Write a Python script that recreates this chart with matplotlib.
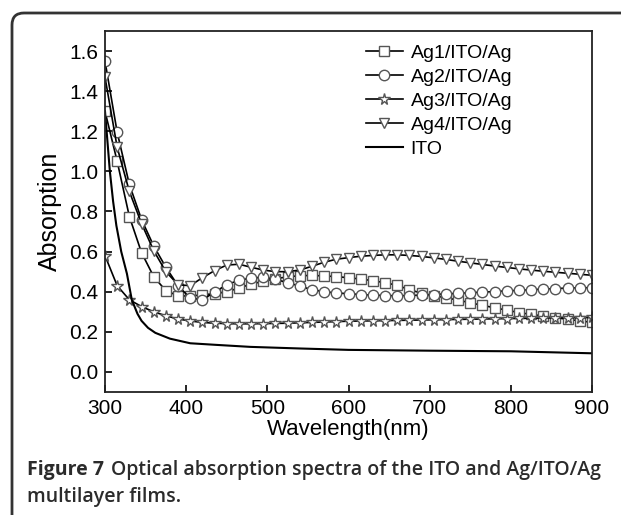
import numpy as np
import matplotlib.pyplot as plt
from matplotlib.patches import FancyBboxPatch

plt.rcParams['font.family'] = ['Liberation Sans', 'DejaVu Sans']

# wavelength grid of the marked curves (nm)
wl = np.arange(300, 901, 15)

ag1 = [1.30, 1.05, 0.775, 0.595, 0.475, 0.405, 0.38, 0.378, 0.385, 0.39, 0.40,
       0.418, 0.438, 0.452, 0.465, 0.474, 0.48, 0.481, 0.479, 0.475, 0.47,
       0.463, 0.455, 0.445, 0.432, 0.41, 0.393, 0.38, 0.37, 0.358, 0.345,
       0.332, 0.32, 0.308, 0.296, 0.287, 0.279, 0.271, 0.262, 0.255, 0.247]
ag2 = [1.55, 1.195, 0.935, 0.76, 0.628, 0.522, 0.43, 0.368, 0.36, 0.398, 0.435,
       0.457, 0.468, 0.472, 0.462, 0.445, 0.428, 0.41, 0.40, 0.394, 0.39,
       0.386, 0.383, 0.381, 0.38, 0.381, 0.383, 0.386, 0.389, 0.392, 0.395,
       0.398, 0.401, 0.404, 0.407, 0.41, 0.413, 0.416, 0.418, 0.42, 0.42]
ag3 = [0.58, 0.43, 0.36, 0.326, 0.30, 0.28, 0.264, 0.254, 0.247, 0.243, 0.241,
       0.24, 0.24, 0.241, 0.242, 0.243, 0.245, 0.247, 0.249, 0.251, 0.253,
       0.254, 0.255, 0.256, 0.257, 0.258, 0.259, 0.26, 0.261, 0.262, 0.263,
       0.264, 0.265, 0.266, 0.267, 0.268, 0.269, 0.27, 0.27, 0.271, 0.272]
ag4 = [1.47, 1.12, 0.90, 0.74, 0.605, 0.50, 0.435, 0.43, 0.47, 0.505, 0.533,
       0.537, 0.522, 0.508, 0.50, 0.50, 0.508, 0.527, 0.547, 0.562, 0.57,
       0.577, 0.581, 0.584, 0.584, 0.581, 0.576, 0.569, 0.561, 0.552, 0.544,
       0.536, 0.528, 0.521, 0.514, 0.508, 0.502, 0.497, 0.492, 0.487, 0.482]

# bare ITO, solid line
ito_wl = [300, 303, 306, 310, 314, 320, 327, 333, 340, 345, 353, 362, 380,
          405, 437, 479, 540, 600, 700, 800, 900]
ito = [1.30, 1.15, 1.00, 0.85, 0.73, 0.60, 0.49, 0.36, 0.29, 0.255, 0.22,
       0.195, 0.166, 0.143, 0.135, 0.125, 0.117, 0.110, 0.106, 0.103, 0.093]

fig = plt.figure(figsize=(6.21, 5.15), dpi=100)
ax = fig.add_axes([105 / 621, 1 - 392 / 515, 487 / 621, 361 / 515])

mk = dict(color='black', lw=1.2, markersize=7.5, markerfacecolor='white',
          markeredgecolor='#555555', markeredgewidth=1.0)
ax.plot(wl, ag1, marker='s', label='Ag1/ITO/Ag', **mk)
ax.plot(wl, ag2, marker='o', label='Ag2/ITO/Ag', **mk)
ax.plot(wl, ag3, marker='*', label='Ag3/ITO/Ag', **dict(mk, markersize=8.5))
ax.plot(wl, ag4, marker='v', label='Ag4/ITO/Ag', **mk)
ax.plot(ito_wl, ito, color='black', lw=1.5, label='ITO')

ax.set_xlim(300, 900)
ax.set_ylim(-0.1, 1.7)
ax.set_xticks(np.arange(300, 901, 100))
ax.set_yticks(np.arange(0, 1.61, 0.2))
ax.yaxis.set_major_formatter(plt.FormatStrFormatter('%.1f'))
ax.tick_params(direction='in', labelsize=15, length=5, width=1.2, pad=5)
for s in ax.spines.values():
    s.set_linewidth(1.3)
    s.set_color('#222222')
ax.set_xlabel('Wavelength(nm)', fontsize=16, labelpad=1)
ax.set_ylabel('Absorption', fontsize=18, labelpad=5)

ax.legend(loc='upper left', bbox_to_anchor=(0.52, 0.985), frameon=False,
          fontsize=14, handlelength=1.9, handletextpad=0.4, labelspacing=0.33,
          borderaxespad=0)

# caption: bold figure number followed by the semibold title
cap_y = 1 - 470 / 515
t1 = fig.text(27 / 621, cap_y, 'Figure 7 ', fontsize=14, fontweight='bold',
              family='Open Sans', va='center', color='#2b2b2b')
fig.canvas.draw()
x_end = fig.transFigure.inverted().transform(
    t1.get_window_extent().get_points())[1, 0]
fig.text(x_end + 2 / 621, cap_y,
         'Optical absorption spectra of the ITO and Ag/ITO/Ag', fontsize=14,
         fontweight='semibold', family='Open Sans', va='center', color='#2b2b2b')
fig.text(27 / 621, 1 - 497 / 515, 'multilayer films.', fontsize=14,
         fontweight='semibold', family='Open Sans', va='center', color='#2b2b2b')

# rounded frame around the figure panel
frame = FancyBboxPatch((12, -60), 700, 515 - 13 + 60,
                       boxstyle='round,pad=0,rounding_size=12',
                       transform=None, fill=False, lw=2, ec='#333333')
fig.add_artist(frame)

fig.savefig('out.png', dpi=100)
